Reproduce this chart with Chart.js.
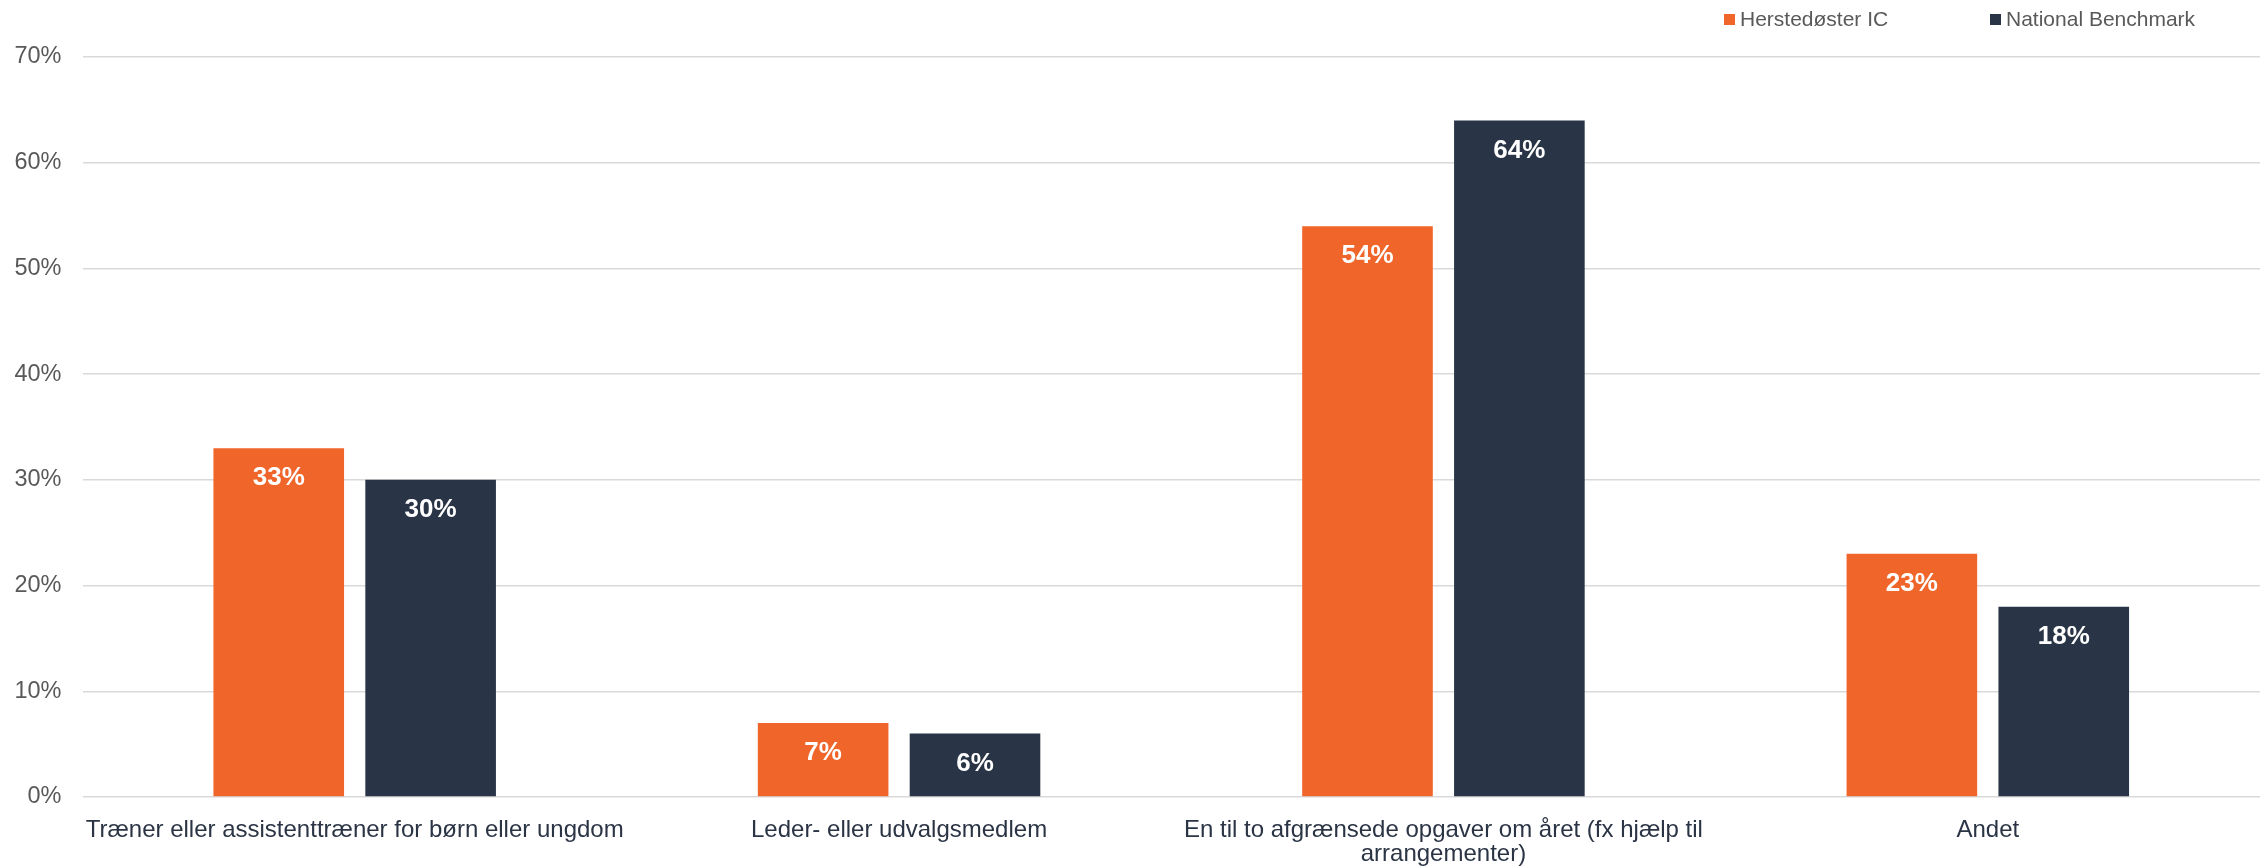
<!DOCTYPE html>
<html>
<head>
<meta charset="utf-8">
<script src="https://cdn.jsdelivr.net/npm/chart.js@4.4.1/dist/chart.umd.min.js"></script>
<style>
  html, body { margin: 0; padding: 0; background: #ffffff; }
  #wrap { position: relative; width: 2267px; height: 868px; }
</style>
</head>
<body>
<div id="wrap"><canvas id="c"></canvas></div>
<script>
const categories = [
  "Træner eller assistenttræner for børn eller ungdom",
  "Leder- eller udvalgsmedlem",
  ["En til to afgrænsede opgaver om året (fx hjælp til", "arrangementer)"],
  "Andet"
];
const seriesNames = ["Herstedøster IC", "National Benchmark"];
const herstedosterValues = [33, 7, 54, 23];
const nationalValues = [30, 6, 64, 18];
const yTickValues = [0, 10, 20, 30, 40, 50, 60, 70];
const seriesColors = ["#F0652A", "#293546"];

const FONT = "'Liberation Sans', Arial, Helvetica, sans-serif";

const valueLabelPlugin = {
  id: 'valueLabels',
  afterDatasetsDraw(chart) {
    const ctx = chart.ctx;
    ctx.save();
    ctx.font = "bold 26px " + FONT;
    ctx.fillStyle = "#ffffff";
    ctx.textAlign = "center";
    ctx.textBaseline = "middle";
    chart.data.datasets.forEach((ds, di) => {
      const meta = chart.getDatasetMeta(di);
      meta.data.forEach((bar, i) => {
        ctx.fillText(ds.data[i] + "%", bar.x, bar.y + 30);
      });
    });
    ctx.restore();
  }
};

const legendPlugin = {
  id: 'customLegend',
  afterDraw(chart) {
    const ctx = chart.ctx;
    const items = [
      { x: 1724, label: seriesNames[0], color: seriesColors[0] },
      { x: 1990, label: seriesNames[1], color: seriesColors[1] }
    ];
    ctx.save();
    ctx.font = "21px " + FONT;
    ctx.textBaseline = "middle";
    ctx.textAlign = "left";
    items.forEach(it => {
      ctx.fillStyle = it.color;
      ctx.fillRect(it.x, 14, 11, 11);
      ctx.fillStyle = "#595959";
      ctx.fillText(it.label, it.x + 16, 20);
    });
    ctx.restore();
  }
};

new Chart(document.getElementById('c'), {
  type: 'bar',
  data: {
    labels: categories,
    datasets: [
      { label: seriesNames[0], data: herstedosterValues, backgroundColor: seriesColors[0] },
      { label: seriesNames[1], data: nationalValues, backgroundColor: seriesColors[1] }
    ]
  },
  options: {
    responsive: true,
    maintainAspectRatio: false,
    animation: false,
    categoryPercentage: 0.558,
    barPercentage: 0.86,
    layout: { padding: { top: 57, right: 7, left: 0, bottom: 0 } },
    plugins: {
      legend: { display: false },
      tooltip: { enabled: false }
    },
    scales: {
      x: {
        grid: { display: false, drawTicks: false },
        border: { display: false },
        ticks: {
          color: "#2B3445",
          font: { family: FONT, size: 24, lineHeight: 1.0 },
          padding: 21,
          maxRotation: 0,
          autoSkip: false
        },
        afterFit(scale) { scale.height = 71; }
      },
      y: {
        min: 0,
        max: 70,
        afterBuildTicks(scale) { scale.ticks = yTickValues.map(v => ({ value: v })); },
        grid: { color: "#D9D9D9", lineWidth: 1.5, drawTicks: false },
        border: { display: false },
        ticks: {
          color: "#595959",
          font: { family: FONT, size: 23.5 },
          padding: 21,
          callback: v => v + "%"
        },
        afterFit(scale) { scale.width = 82.5; }
      }
    }
  },
  plugins: [valueLabelPlugin, legendPlugin]
});
</script>
</body>
</html>
